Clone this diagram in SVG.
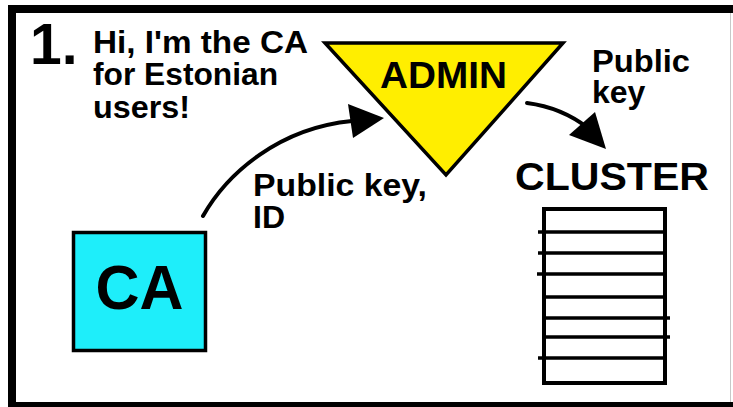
<svg xmlns="http://www.w3.org/2000/svg" width="733" height="407" viewBox="0 0 733 407">
  <style>
    text { font-family: "Liberation Sans", Arial, Helvetica, sans-serif; font-weight: bold; fill: #000; }
    .note { font-size: 32px; }
    .big { font-size: 57px; }
    .shape { stroke: #000; stroke-linejoin: miter; }
    .wire { fill: none; stroke: #000; stroke-width: 4; stroke-linecap: round; }
    .slat { stroke: #000; stroke-width: 3.5; }
  </style>

  <rect width="733" height="407" fill="#fff"/>

  <!-- frame -->
  <g id="frame">
    <rect x="8" y="5" width="725" height="8" fill="#000"/>
    <rect x="8" y="5" width="8" height="402" fill="#000"/>
    <rect x="8" y="402" width="725" height="5" fill="#000"/>
    <line x1="730.5" y1="13" x2="730.5" y2="402" stroke="#c8c8c8" stroke-width="1"/>
  </g>

  <!-- step heading and speech -->
  <g id="heading">
    <text class="big" x="30" y="64">1.</text>
    <text class="note" x="93" y="53" textLength="215" lengthAdjust="spacingAndGlyphs">Hi, I'm the CA</text>
    <text class="note" x="93" y="85" textLength="185" lengthAdjust="spacingAndGlyphs">for Estonian</text>
    <text class="note" x="93" y="118" textLength="97" lengthAdjust="spacingAndGlyphs">users!</text>
  </g>

  <!-- connectors -->
  <g id="connectors">
    <path class="wire" d="M203,216 C228,172 280,128 352,121"/>
    <polygon points="384,118 348,104 353,138" fill="#000"/>
    <path class="wire" d="M527,103 C550,106 570,114 588,128"/>
    <polygon points="606,149 569,135 595,112" fill="#000"/>
    <text class="note" x="253" y="196" textLength="174" lengthAdjust="spacingAndGlyphs">Public key,</text>
    <text class="note" x="253" y="228">ID</text>
    <text class="note" x="592" y="72" textLength="98" lengthAdjust="spacingAndGlyphs">Public</text>
    <text class="note" x="592" y="103">key</text>
  </g>

  <!-- certificate authority -->
  <g id="ca">
    <rect class="shape" x="73.5" y="232.5" width="132" height="118" fill="#1EEEFA" stroke-width="3.5"/>
    <text x="139.5" y="309" font-size="63" text-anchor="middle" textLength="88" lengthAdjust="spacingAndGlyphs">CA</text>
  </g>

  <!-- admin -->
  <g id="admin">
    <polygon class="shape" points="325,43 563,43 446,175" fill="#FFEE00" stroke-width="3.5"/>
    <text x="443.5" y="88" font-size="36" text-anchor="middle" textLength="127" lengthAdjust="spacingAndGlyphs">ADMIN</text>
  </g>

  <!-- cluster -->
  <g id="cluster">
    <text x="612" y="190" font-size="38" text-anchor="middle" textLength="194" lengthAdjust="spacingAndGlyphs">CLUSTER</text>
    <rect class="shape" x="544" y="209" width="121" height="174" fill="#fff" stroke-width="4"/>
    <line class="slat" x1="538" y1="232" x2="665" y2="232"/>
    <line class="slat" x1="538" y1="253" x2="665" y2="253"/>
    <line class="slat" x1="537" y1="274" x2="665" y2="274"/>
    <line class="slat" x1="544" y1="297" x2="665" y2="297"/>
    <line class="slat" x1="544" y1="318" x2="670" y2="318"/>
    <line class="slat" x1="544" y1="337" x2="670" y2="337"/>
    <line class="slat" x1="538" y1="358" x2="665" y2="358"/>
  </g>
</svg>
